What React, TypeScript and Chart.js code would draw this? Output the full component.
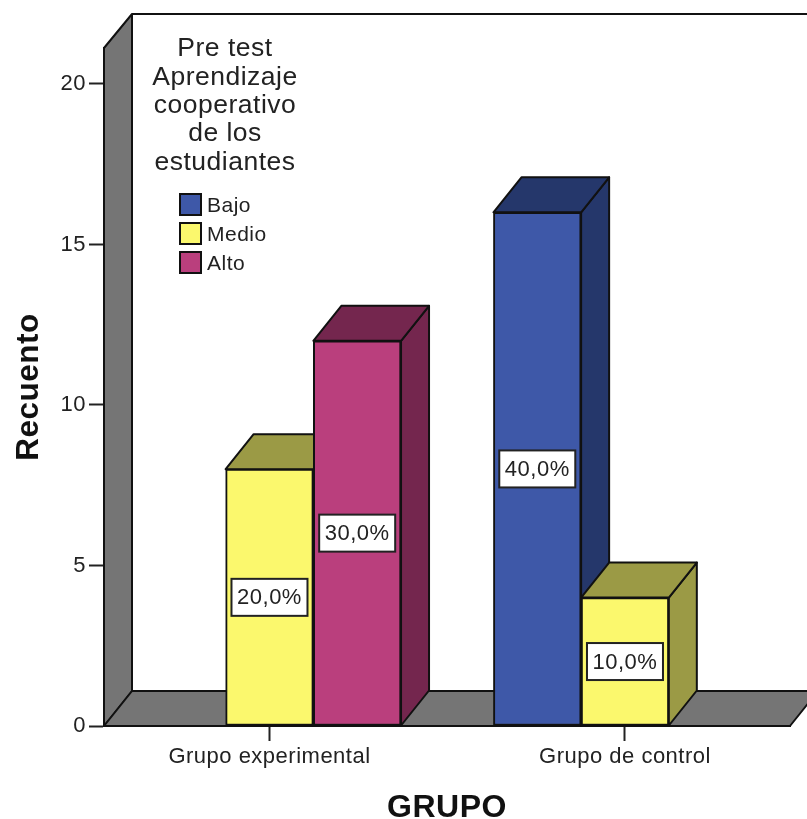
import React, { useEffect, useRef } from "react";
import { Chart, registerables } from "chart.js";

Chart.register(...registerables);

const categories = ["Grupo experimental", "Grupo de control"];
const groupPositions = [0, 1];
const seriesNames = ["Bajo", "Medio", "Alto"];
const bajo = [null, 16];
const medio = [8, 4];
const alto = [12, null];
const bajoLabels = [null, "40,0%"];
const medioLabels = ["20,0%", "10,0%"];
const altoLabels = ["30,0%", null];
const yTicks = [0, 5, 10, 15, 20];
const legendTitle = ["Pre test", "Aprendizaje", "cooperativo", "de los", "estudiantes"];

const frontColors = ["#3e58a8", "#fbf86d", "#ba3f7d"];
const darkColors = ["#25376b", "#9b9a45", "#74264e"];
const FONT = '"Liberation Sans", Arial, sans-serif';
const DX = 28;
const DY = 35;
const INK = "#111111";

function poly(ctx: CanvasRenderingContext2D, pts: number[][], fill: string) {
  ctx.beginPath();
  pts.forEach((p, i) => (i ? ctx.lineTo(p[0], p[1]) : ctx.moveTo(p[0], p[1])));
  ctx.closePath();
  ctx.fillStyle = fill;
  ctx.fill();
  ctx.lineWidth = 2;
  ctx.strokeStyle = INK;
  ctx.lineJoin = "round";
  ctx.stroke();
}

const spacingPlugin = {
  id: "spacing",
  beforeDraw(chart: any) {
    chart.ctx.letterSpacing = "0.5px";
  },
};

const depthPlugin = {
  id: "depth",
  beforeDatasetsDraw(chart: any) {
    const { ctx, chartArea: a } = chart;
    ctx.save();
    const g = "#757575";
    poly(ctx, [[a.left, a.top], [a.left + DX, a.top - 34], [a.left + DX, a.bottom - DY], [a.left, a.bottom]], g);
    poly(ctx, [[a.left, a.bottom], [a.left + DX, a.bottom - DY], [a.right + DX, a.bottom - DY], [a.right, a.bottom]], g);
    ctx.beginPath();
    ctx.moveTo(a.left + DX, a.top - 34);
    ctx.lineTo(a.right + DX, a.top - 34);
    ctx.lineWidth = 2;
    ctx.strokeStyle = INK;
    ctx.stroke();
    chart.data.datasets.forEach((ds: any, di: number) => {
      chart.getDatasetMeta(di).data.forEach((bar: any, i: number) => {
        if (ds.data[i].y === null) return;
        const p = bar.getProps(["x", "y", "base", "width"]);
        const l = p.x - p.width / 2;
        const r = p.x + p.width / 2;
        poly(ctx, [[r, p.y], [r + DX, p.y - DY], [r + DX, p.base - DY], [r, p.base]], darkColors[di]);
        poly(ctx, [[l, p.y], [l + DX, p.y - DY], [r + DX, p.y - DY], [r, p.y]], darkColors[di]);
      });
    });
    ctx.restore();
  },
  afterDatasetsDraw(chart: any) {
    const { ctx } = chart;
    ctx.save();
    ctx.font = `22px ${FONT}`;
    ctx.textAlign = "center";
    ctx.textBaseline = "middle";
    chart.data.datasets.forEach((ds: any, di: number) => {
      chart.getDatasetMeta(di).data.forEach((bar: any, i: number) => {
        const label = ds.valueLabels[i];
        if (!label) return;
        const p = bar.getProps(["x", "y", "base"]);
        const cy = (p.y + p.base) / 2;
        ctx.fillStyle = "#ffffff";
        ctx.strokeStyle = "#222222";
        ctx.lineWidth = 2;
        ctx.fillRect(p.x - 38, cy - 18.5, 76, 37);
        ctx.strokeRect(p.x - 38, cy - 18.5, 76, 37);
        ctx.fillStyle = "#222222";
        ctx.fillText(label, p.x, cy + 1);
      });
    });
    ctx.font = `26.5px ${FONT}`;
    ctx.fillStyle = "#222222";
    legendTitle.forEach((line, i) => ctx.fillText(line, 225, 49 + i * 28.3));
    ctx.font = `21px ${FONT}`;
    ctx.textAlign = "left";
    chart.data.datasets.forEach((ds: any, i: number) => {
      const y = 194 + i * 29;
      ctx.fillStyle = ds.backgroundColor;
      ctx.strokeStyle = INK;
      ctx.lineWidth = 2;
      ctx.fillRect(180, y, 21, 21);
      ctx.strokeRect(180, y, 21, 21);
      ctx.fillStyle = "#222222";
      ctx.fillText(ds.label, 207, y + 12);
    });
    ctx.restore();
  },
};

export default function App() {
  const ref = useRef<HTMLCanvasElement>(null);
  useEffect(() => {
    document.body.style.margin = "0";
    const toPoints = (vals: (number | null)[]) => vals.map((y, i) => ({ x: groupPositions[i], y }));
    const make = (i: number, vals: (number | null)[], labels: (string | null)[]) => ({
      label: seriesNames[i],
      data: toPoints(vals),
      valueLabels: labels,
      backgroundColor: frontColors[i],
      borderColor: INK,
      borderWidth: 2,
      borderSkipped: false,
      barThickness: 87.7,
    });
    const chart = new Chart(ref.current!, {
      type: "bar",
      data: {
        datasets: [make(0, bajo, bajoLabels), make(1, medio, medioLabels), make(2, alto, altoLabels)] as any,
      },
      plugins: [spacingPlugin, depthPlugin],
      options: {
        responsive: false,
        animation: false,
        layout: { padding: { top: 48, right: 17, left: 0, bottom: 0 } },
        plugins: { legend: { display: false }, tooltip: { enabled: false } },
        scales: {
          x: {
            type: "linear",
            offset: false,
            min: -0.4655,
            max: 1.4642,
            afterBuildTicks(s: any) {
              s.ticks = groupPositions.map((value) => ({ value }));
            },
            afterFit(s: any) {
              s.height = 93;
            },
            border: { color: INK, width: 2 },
            grid: { offset: false, drawOnChartArea: false, tickLength: 15, tickColor: "#222222", tickWidth: 2 },
            ticks: {
              autoSkip: false,
              maxRotation: 0,
              minRotation: 0,
              padding: 3,
              color: "#222222",
              font: { family: FONT, size: 22 },
              callback: (v: any) => categories[groupPositions.indexOf(Number(v))] ?? "",
            },
            title: {
              display: true,
              text: "GRUPO",
              color: "#111111",
              font: { family: FONT, size: 32, weight: "bold", lineHeight: 1 },
              padding: { top: 0, bottom: -5 },
            },
          },
          y: {
            min: 0,
            max: 21.12,
            afterBuildTicks(s: any) {
              s.ticks = yTicks.map((value) => ({ value }));
            },
            afterFit(s: any) {
              s.width = 104;
            },
            border: { color: INK, width: 2 },
            grid: { drawOnChartArea: false, tickLength: 15, tickColor: "#222222", tickWidth: 2 },
            ticks: {
              padding: 3,
              color: "#222222",
              font: { family: FONT, size: 22 },
            },
            title: {
              display: true,
              text: "Recuento",
              color: "#111111",
              font: { family: FONT, size: 31.5, weight: "bold" },
              padding: { top: 10, bottom: 0 },
            },
          },
        },
      } as any,
    });
    return () => chart.destroy();
  }, []);
  return (
    <div style={{ position: "absolute", left: 0, top: 0, width: 807, height: 819 }}>
      <canvas ref={ref} width={807} height={819} style={{ display: "block", filter: "blur(0.4px)" }} />
    </div>
  );
}
